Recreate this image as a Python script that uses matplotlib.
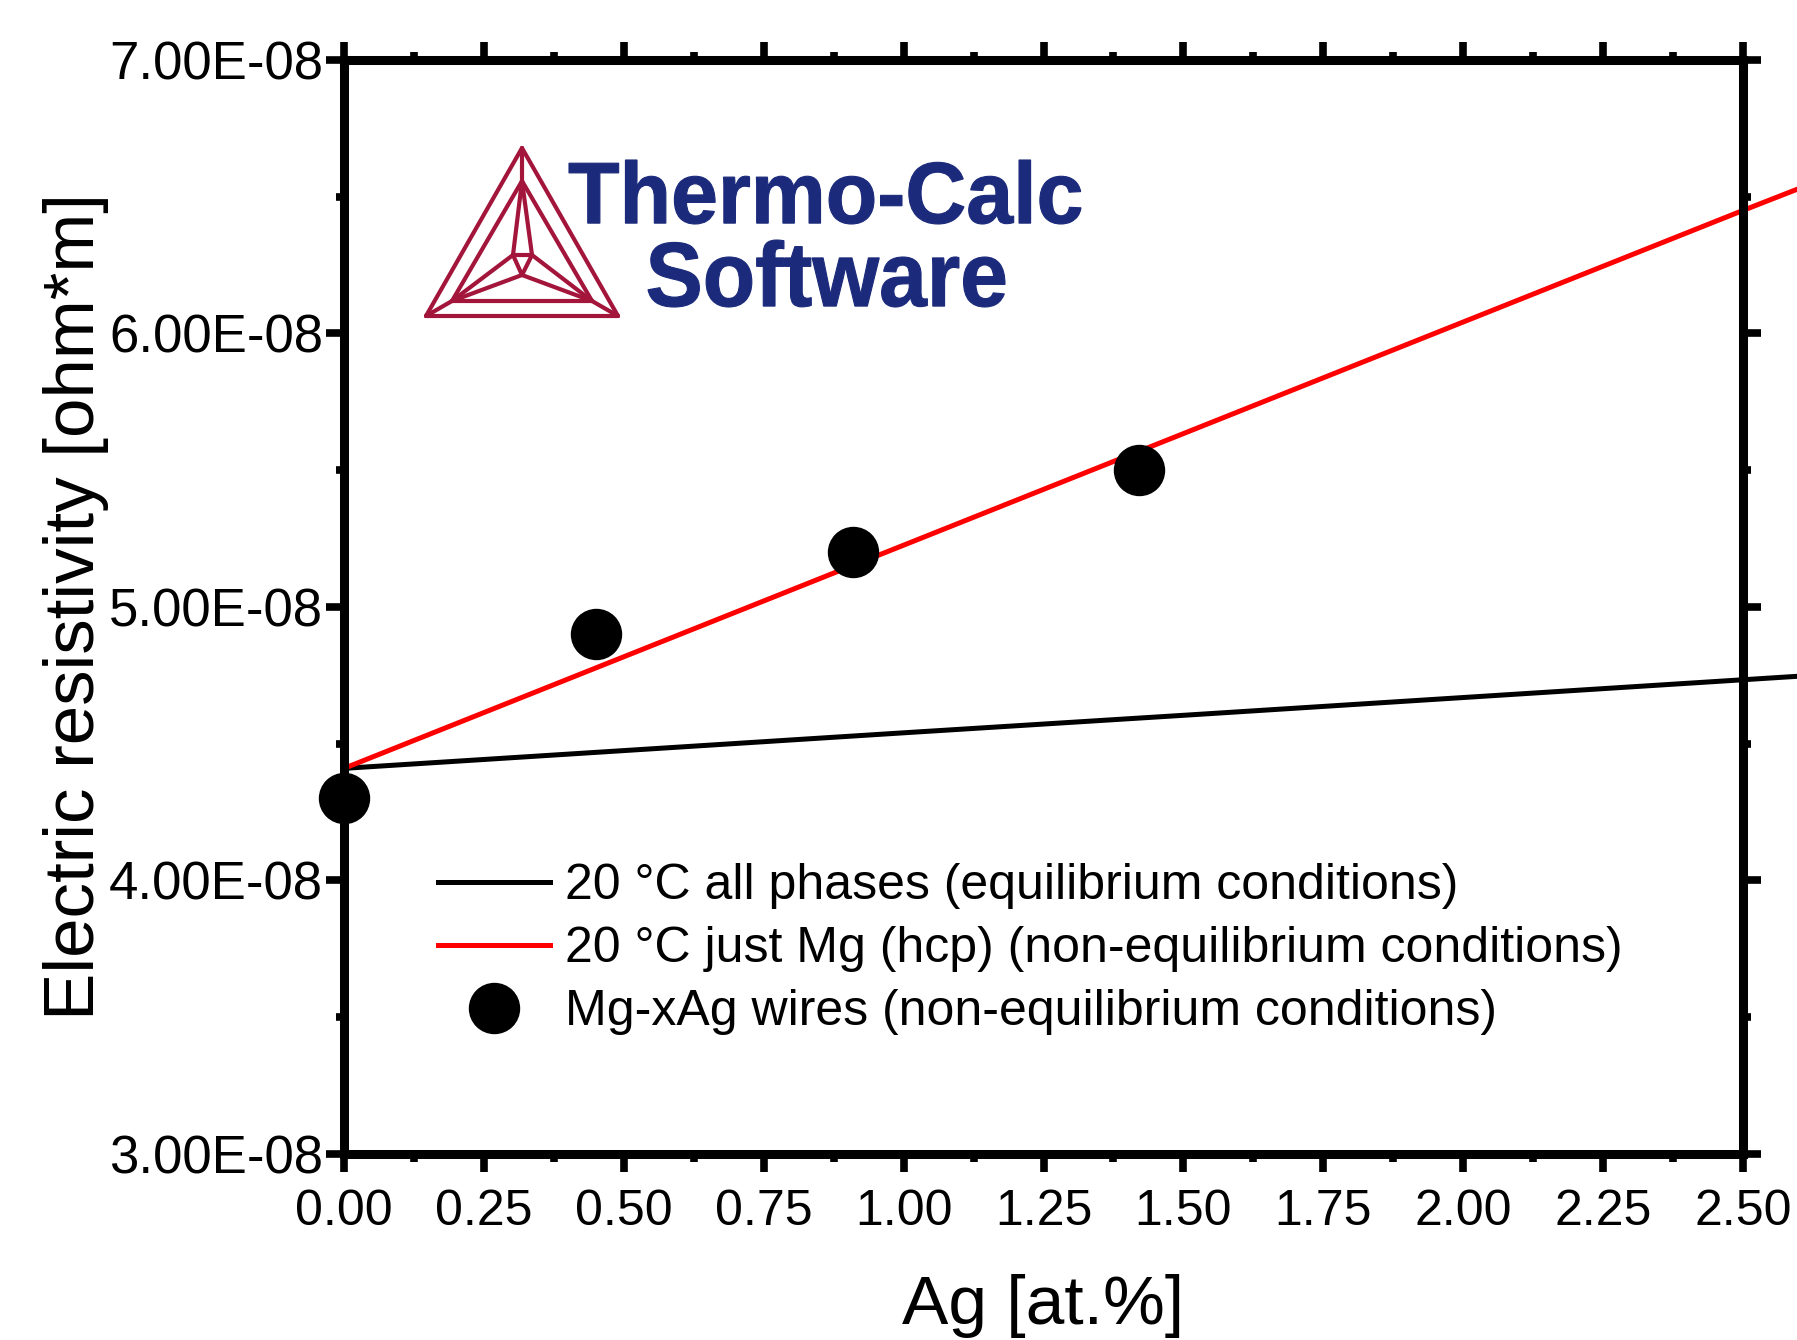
import matplotlib
matplotlib.use('Agg')
import matplotlib.pyplot as plt
from matplotlib.ticker import MultipleLocator, FuncFormatter
from matplotlib.textpath import TextPath
from matplotlib.font_manager import FontProperties
from matplotlib.patches import PathPatch
from matplotlib.transforms import Affine2D

# Thermo-Calc curves (they run a bit past the right axis)
ag_calc = [0.0, 0.5, 1.0, 1.5, 2.0, 2.5, 2.6]
rho_all_phases = [4.41e-8, 4.475e-8, 4.54e-8, 4.604e-8, 4.669e-8, 4.734e-8, 4.747e-8]
rho_hcp = [4.41e-8, 4.818e-8, 5.226e-8, 5.634e-8, 6.042e-8, 6.45e-8, 6.53e-8]

# measured Mg-xAg wires
ag_wires = [0.0, 0.45, 0.91, 1.42]
rho_wires = [4.30e-8, 4.90e-8, 5.20e-8, 5.50e-8]

labels = ["20 °C all phases (equilibrium conditions)",
          "20 °C just Mg (hcp) (non-equilibrium conditions)",
          "Mg-xAg wires (non-equilibrium conditions)"]

W, H = 1797, 1340
plt.rcParams['font.family'] = ['Liberation Sans', 'DejaVu Sans']

fig = plt.figure(figsize=(W / 100, H / 100), dpi=100)
ax = fig.add_axes([344 / W, 1 - 1154 / H, (1743 - 344) / W, (1154 - 60) / H])

ax.plot(ag_calc, rho_all_phases, color='black', lw=3.6, clip_on=False, label=labels[0])
ax.plot(ag_calc, rho_hcp, color='red', lw=3.6, clip_on=False, label=labels[1])
ax.plot(ag_wires, rho_wires, 'o', color='black', ms=36, ls='none', clip_on=False,
        zorder=5, label=labels[2])

ax.set_xlim(0, 2.5)
ax.set_ylim(3e-8, 7e-8)
ax.xaxis.set_major_locator(MultipleLocator(0.25))
ax.xaxis.set_minor_locator(MultipleLocator(0.125))
ax.yaxis.set_major_locator(MultipleLocator(1e-8))
ax.yaxis.set_minor_locator(MultipleLocator(0.5e-8))
ax.xaxis.set_major_formatter(FuncFormatter(lambda v, p: f"{v:.2f}"))
ax.yaxis.set_major_formatter(FuncFormatter(lambda v, p: f"{v:.2E}"))

for s in ax.spines.values():
    s.set_linewidth(6.5)
ax.tick_params(which='both', direction='out', top=True, right=True, width=5.5)
ax.tick_params(which='major', length=13)
ax.tick_params(which='minor', length=6)
ax.tick_params(axis='x', pad=12, labelsize=36)
ax.tick_params(axis='y', pad=2, labelsize=38)

ax.set_xlabel("Ag [at.%]", fontsize=50)
ax.set_ylabel("Electric resistivity [ohm*m]", fontsize=51)
ax.xaxis.set_label_coords(0.5, -0.11)
ax.yaxis.set_label_coords(-0.168, 0.5)

leg = ax.legend(loc='upper left', bbox_to_anchor=(438 / W, 1 - 863 / H),
                bbox_transform=fig.transFigure, frameon=False, fontsize=36,
                handlelength=2.24, handletextpad=0.3, labelspacing=0.34,
                borderpad=0, borderaxespad=0)

# logo, drawn in figure pixel space
lax = fig.add_axes([0, 0, 1, 1])
lax.set_xlim(0, W)
lax.set_ylim(H, 0)
lax.axis('off')

logo_red = '#A3153B'
logo_blue = '#1B2A7B'


def place_text(s, box, color):
    tp = TextPath((0, 0), s, size=100,
                  prop=FontProperties(family='Liberation Sans', weight='bold'))
    ext = tp.get_extents()
    x0, y0, x1, y1 = box
    tr = (Affine2D().translate(-ext.x0, -ext.y0)
          .scale((x1 - x0) / ext.width, -(y1 - y0) / ext.height)
          .translate(x0, y1))
    lax.add_patch(PathPatch(tr.transform_path(tp), color=color, lw=0.8, ec=color))


place_text("Thermo-Calc", (569, 160, 1081, 224), logo_blue)
place_text("Software", (648, 240, 1005, 307), logo_blue)

A0, B0, C0 = (522, 148), (426, 316), (618, 316)
A1, B1, C1 = (522, 181), (452, 301), (592, 301)
p, q, r = (513, 255), (532, 255), (522, 275)
segments = [(A0, B0), (B0, C0), (C0, A0),
            (A1, B1), (B1, C1), (C1, A1),
            (A0, A1), (B0, B1), (C0, C1),
            (A1, p), (A1, q), (p, q), (p, r), (q, r),
            (p, B1), (q, C1), (r, B1), (r, C1)]
for a, b in segments:
    lax.plot([a[0], b[0]], [a[1], b[1]], color=logo_red, lw=3.0,
             solid_capstyle='round')

fig.savefig('out.png', dpi=100)
